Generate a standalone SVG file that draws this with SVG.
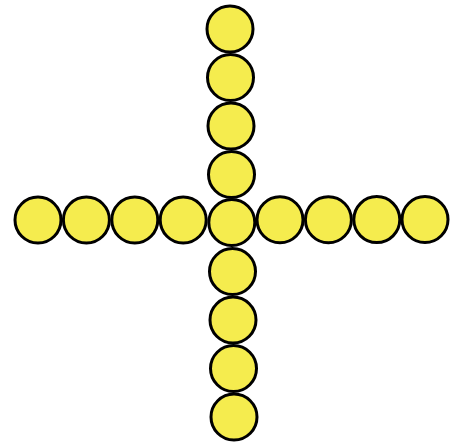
<svg xmlns="http://www.w3.org/2000/svg" width="459" height="443" viewBox="0 0 459 443">
<style>
.n{fill:#f5ec4e;stroke:#000;stroke-width:3}
</style>
<rect width="459" height="443" fill="#fff"/>
<g id="h0"><circle class="n" cx="38" cy="220" r="23"/></g>
<g id="h1"><circle class="n" cx="86.4" cy="220" r="23"/></g>
<g id="h2"><circle class="n" cx="134.8" cy="220" r="23"/></g>
<g id="h3"><circle class="n" cx="183.2" cy="220" r="23"/></g>
<g id="h5"><circle class="n" cx="280" cy="219.8" r="23"/></g>
<g id="h6"><circle class="n" cx="328.4" cy="219.7" r="23"/></g>
<g id="h7"><circle class="n" cx="376.8" cy="219.6" r="23"/></g>
<g id="h8"><circle class="n" cx="425" cy="219.5" r="23"/></g>
<g id="v0"><circle class="n" cx="230" cy="29" r="23"/></g>
<g id="v1"><circle class="n" cx="230.5" cy="77.5" r="23"/></g>
<g id="v2"><circle class="n" cx="231" cy="126" r="23"/></g>
<g id="v3"><circle class="n" cx="231.5" cy="174.5" r="23"/></g>
<g id="v5"><circle class="n" cx="232.5" cy="271.5" r="23"/></g>
<g id="v6"><circle class="n" cx="233" cy="320" r="23"/></g>
<g id="v7"><circle class="n" cx="233.5" cy="368.5" r="23"/></g>
<g id="v8"><circle class="n" cx="234" cy="417" r="23"/></g>
<g id="center"><circle class="n" cx="231.8" cy="222.5" r="23"/></g>
<g id="connectors"></g>
</svg>
